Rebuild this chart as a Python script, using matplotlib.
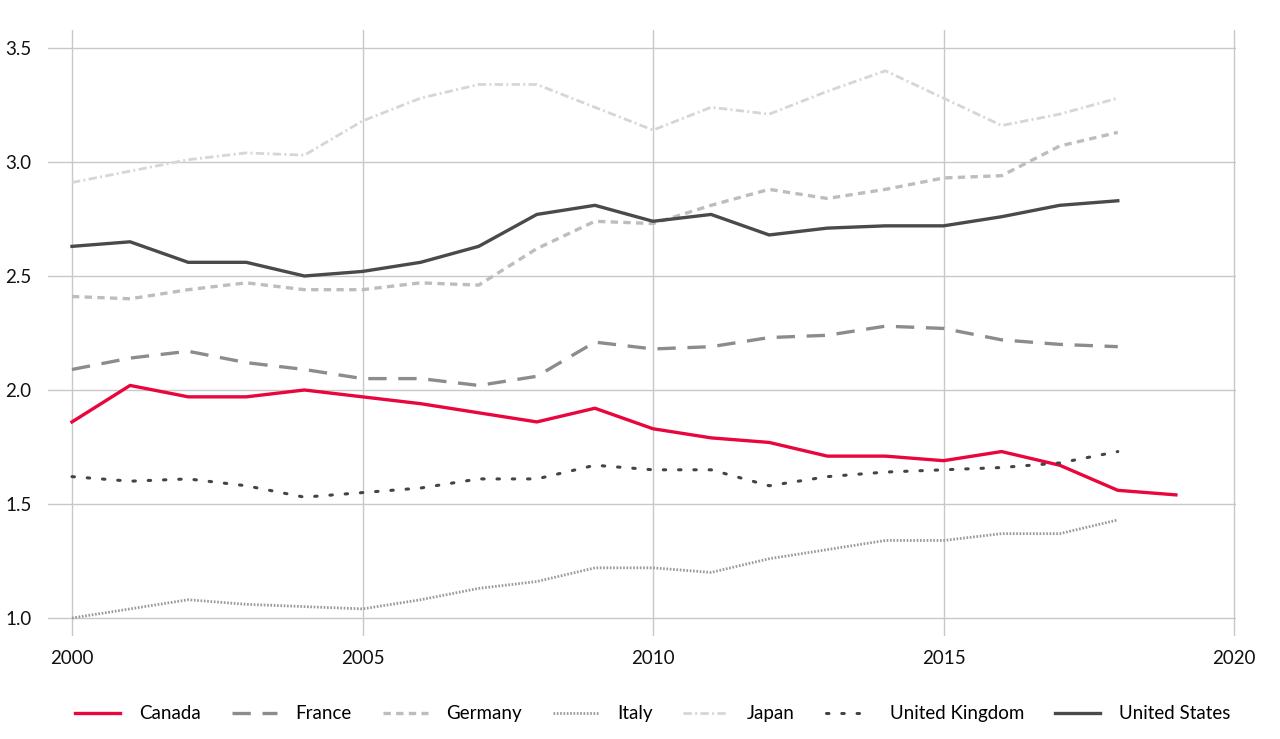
import matplotlib
matplotlib.use("Agg")
import matplotlib.pyplot as plt

plt.rcParams["font.family"] = ["Lato", "DejaVu Sans"]

# Data
years = list(range(2000, 2020))
canada = [1.86, 2.02, 1.97, 1.97, 2.00, 1.97, 1.94, 1.90, 1.86, 1.92,
          1.83, 1.79, 1.77, 1.71, 1.71, 1.69, 1.73, 1.67, 1.56, 1.54]
france = [2.09, 2.14, 2.17, 2.12, 2.09, 2.05, 2.05, 2.02, 2.06, 2.21,
          2.18, 2.19, 2.23, 2.24, 2.28, 2.27, 2.22, 2.20, 2.19]
germany = [2.41, 2.40, 2.44, 2.47, 2.44, 2.44, 2.47, 2.46, 2.62, 2.74,
           2.73, 2.81, 2.88, 2.84, 2.88, 2.93, 2.94, 3.07, 3.13]
italy = [1.00, 1.04, 1.08, 1.06, 1.05, 1.04, 1.08, 1.13, 1.16, 1.22,
         1.22, 1.20, 1.26, 1.30, 1.34, 1.34, 1.37, 1.37, 1.43]
japan = [2.91, 2.96, 3.01, 3.04, 3.03, 3.18, 3.28, 3.34, 3.34, 3.24,
         3.14, 3.24, 3.21, 3.31, 3.40, 3.28, 3.16, 3.21, 3.28]
uk = [1.62, 1.60, 1.61, 1.58, 1.53, 1.55, 1.57, 1.61, 1.61, 1.67,
      1.65, 1.65, 1.58, 1.62, 1.64, 1.65, 1.66, 1.68, 1.73]
us = [2.63, 2.65, 2.56, 2.56, 2.50, 2.52, 2.56, 2.63, 2.77, 2.81,
      2.74, 2.77, 2.68, 2.71, 2.72, 2.72, 2.76, 2.81, 2.83]

x_ticks = [2000, 2005, 2010, 2015, 2020]
y_ticks = [1.0, 1.5, 2.0, 2.5, 3.0, 3.5]

fig = plt.figure(figsize=(12.8, 7.39), dpi=100)
ax = fig.add_axes([48 / 1280, 1 - 636 / 739, (1236 - 48) / 1280, (636 - 30) / 739])

# ── Series ────────────────────────────────────────────────────────────
series = [
    ("Canada", canada, dict(color="#e8063c", linestyle="-", lw=2.4)),
    ("France", france, dict(color="#8c8c8c", linestyle=(0, (5.5, 3.5)), lw=2.4)),
    ("Germany", germany, dict(color="#bdbdbd", linestyle=(0, (2.2, 1.6)), lw=2.4)),
    ("Italy", italy, dict(color="#9a9a9a", linestyle=(0, (0.6, 0.6)), lw=2.0)),
    ("Japan", japan, dict(color="#d6d6d6", linestyle=(0, (3.0, 1.2, 0.7, 1.2)), lw=2.0)),
    ("United Kingdom", uk, dict(color="#444444", linestyle=(0, (0.8, 4.2)), lw=2.2,
                                dash_capstyle="round")),
    ("United States", us, dict(color="#4a4a4a", linestyle="-", lw=2.4)),
]
for name, vals, style in series:
    ax.plot(years[:len(vals)], vals, label=name, **style)

# ── Axes styling ──────────────────────────────────────────────────────
ax.set_xlim(2000 - 24 / 58.1, 2020 + 2 / 58.1)
ax.set_ylim(1.0 - 18 / 228, 1.0 + 588 / 228)
ax.set_xticks(x_ticks)
ax.set_yticks(y_ticks)
ax.set_yticklabels([f"{v:.1f}" for v in y_ticks])
ax.grid(True, color="#c8c8c8", linewidth=1.0)
ax.set_axisbelow(True)
for spine in ax.spines.values():
    spine.set_visible(False)
ax.tick_params(length=0, labelsize=13.5, colors="#111111")
ax.tick_params(axis="y", pad=12)
ax.tick_params(axis="x", pad=10)

fig.legend(loc="lower center", bbox_to_anchor=(0.51, 0.0), ncol=7, frameon=False,
           fontsize=13.5, handlelength=2.4, columnspacing=1.65, handletextpad=1.0,
           borderaxespad=0.5)

fig.savefig("out.png", dpi=100)
